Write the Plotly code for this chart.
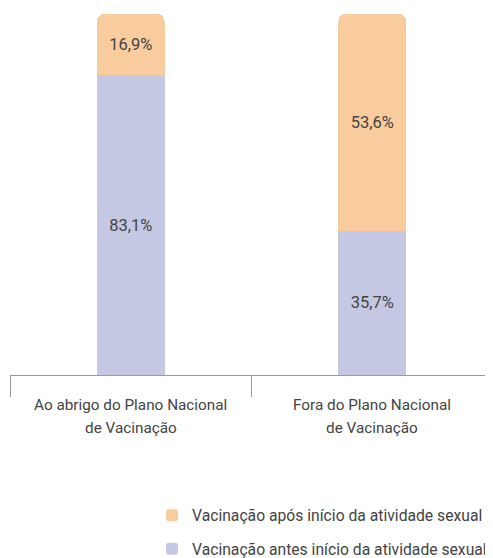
import plotly.graph_objects as go

categories = ["Ao abrigo do Plano Nacional<br>de Vacinação", "Fora do Plano Nacional<br>de Vacinação"]
antes = [83.1, 35.7]
apos = [16.9, 53.6]
series_names = ["Vacinação antes início da atividade sexual", "Vacinação após início da atividade sexual"]

purple = "#C5C8E3"
orange = "#F8CC9D"
text_color = "#444444"
font_family = "Roboto, sans-serif"

def fmt(v):
    return f"{v:.1f}%".replace(".", ",")

fig = go.Figure()
fig.add_trace(go.Bar(x=categories, y=antes, name=series_names[0], marker_color=purple,
                     text=[fmt(v) for v in antes], textposition="inside", insidetextanchor="middle",
                     legendrank=2, legendgroup="antes", hoverinfo="skip"))
fig.add_trace(go.Bar(x=categories, y=apos, name=series_names[1], marker_color=orange,
                     text=[fmt(v) for v in apos], textposition="inside", insidetextanchor="middle",
                     legendrank=1, legendgroup="apos", hoverinfo="skip"))

fig.update_traces(textfont=dict(size=16.5, color=text_color, family=font_family), marker_line_width=0)

# two-line category labels with wider line spacing
for cat in categories:
    lines = cat.split("<br>")
    for i, line in enumerate(lines):
        fig.add_annotation(x=cat, y=0, xref="x", yref="paper", text=line, showarrow=False,
                           yanchor="middle", yshift=-30 - 23 * i,
                           font=dict(size=15.3, color=text_color, family=font_family))

fig.update_layout(
    barmode="stack", barnorm="percent", bargap=0.72, barcornerradius=7,
    width=485, height=550,
    margin=dict(l=2, r=0, t=6, b=183, autoexpand=False),
    paper_bgcolor="white", plot_bgcolor="white",
    font=dict(family=font_family, size=13, color=text_color),
    uniformtext=dict(mode="show", minsize=10),
    xaxis=dict(showline=True, linecolor="#9a9a9a", linewidth=1, ticks="outside", tickson="boundaries",
               ticklen=21, tickcolor="#9a9a9a", showticklabels=False, showgrid=False),
    yaxis=dict(visible=False, range=[0, 100], showgrid=False),
    legend=dict(orientation="v", x=0.294, xanchor="left", y=-0.3425, yanchor="top",
                traceorder="grouped", tracegroupgap=10, font=dict(size=15.7, color=text_color),
                itemwidth=30),
    showlegend=True,
)

fig.write_html("out.html")
